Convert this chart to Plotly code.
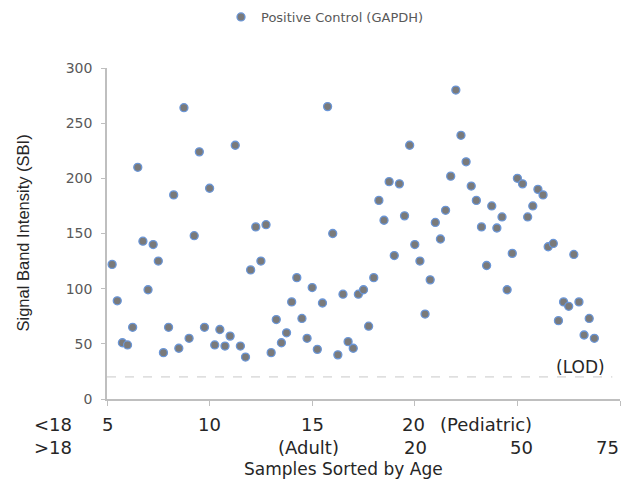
import plotly.graph_objects as go

# Data: samples sorted by age (index), signal band intensity
sbi = [122, 89, 51, 49, 65, 210, 143, 99, 140, 125,
       42, 65, 185, 46, 264, 55, 148, 224, 65, 191,
       49, 63, 48, 57, 230, 48, 38, 117, 156, 125,
       158, 42, 72, 51, 60, 88, 110, 73, 55, 101,
       45, 87, 265, 150, 40, 95, 52, 46, 95, 99,
       66, 110, 180, 162, 197, 130, 195, 166, 230, 140,
       125, 77, 108, 160, 145, 171, 202, 280, 239, 215,
       193, 180, 156, 121, 175, 155, 165, 99, 132, 200,
       195, 165, 175, 190, 185, 138, 141, 71, 88, 84,
       131, 88, 58, 73, 55]
sample_idx = list(range(1, len(sbi) + 1))

lod_value = 20
x_tick_positions = [0, 20, 40, 60, 80, 100]
row1_labels = ["5", "10", "15", "20"]
row1_pos = [0, 20, 40, 59.7]
row2_labels = ["(Adult)", "20", "50"]
row2_pos = [39.3, 60.2, 80.8]

FONT = "DejaVu Sans"
TXT = "#262626"
PW = 513.0  # plot width px


def px_to_paper(px):
    return (px - 107) / PW


fig = go.Figure()
fig.add_trace(go.Scatter(
    x=sample_idx, y=sbi, mode="markers",
    name="Positive Control (GAPDH)",
    marker=dict(size=8, color="#7a7a7a", line=dict(color="#6a96d8", width=1.3)),
))

fig.add_shape(type="line", xref="x", yref="y", x0=0, x1=98.5, y0=lod_value, y1=lod_value,
              line=dict(color="#c8c8c8", width=1, dash="dash"))

ann = []
ann.append(dict(x=92.3, y=29, xref="x", yref="y", text="(LOD)", showarrow=False,
                font=dict(family=FONT, size=17, color=TXT)))
r1y = -0.0785
r2y = -0.148
for lab, p in zip(row1_labels, row1_pos):
    ann.append(dict(x=p, y=r1y, xref="x", yref="paper", text=lab, showarrow=False,
                    yanchor="middle", font=dict(family=FONT, size=18, color=TXT)))
ann.append(dict(x=73.8, y=r1y, xref="x", yref="paper", text="(Pediatric)", showarrow=False,
                yanchor="middle", font=dict(family=FONT, size=18, color=TXT)))
for lab, p in zip(row2_labels, row2_pos):
    ann.append(dict(x=p, y=r2y, xref="x", yref="paper", text=lab, showarrow=False,
                    yanchor="middle", font=dict(family=FONT, size=18, color=TXT)))
ann.append(dict(x=px_to_paper(621), y=r2y, xref="paper", yref="paper", text="75", showarrow=False,
                xanchor="right", yanchor="middle", font=dict(family=FONT, size=18, color=TXT)))
ann.append(dict(x=px_to_paper(32), y=r1y, xref="paper", yref="paper", text="&lt;18", showarrow=False,
                yanchor="middle", font=dict(family=FONT, size=18, color=TXT)))
ann.append(dict(x=px_to_paper(32), y=r2y, xref="paper", yref="paper", text="&gt;18", showarrow=False,
                yanchor="middle", font=dict(family=FONT, size=18, color=TXT)))
ann.append(dict(x=px_to_paper(343), y=-0.2115, xref="paper", yref="paper", text="Samples Sorted by Age",
                showarrow=False, yanchor="middle", font=dict(family=FONT, size=17, color=TXT)))
ann.append(dict(x=px_to_paper(22), y=0.5, xref="paper", yref="paper", text="Signal Band Intensity (SBI)",
                showarrow=False, textangle=-90, xanchor="center", yanchor="middle",
                font=dict(family="Liberation Sans", size=16.5, color=TXT)))

fig.update_layout(
    width=624, height=483,
    margin=dict(l=107, r=4, t=68, b=84, autoexpand=False),
    paper_bgcolor="white", plot_bgcolor="white",
    showlegend=True,
    legend=dict(orientation="h", x=px_to_paper(221), y=(399 - 17) / 331.0,
                xanchor="left", yanchor="middle",
                font=dict(family=FONT, size=13, color="#595959"), itemwidth=30,
                bgcolor="rgba(0,0,0,0)"),
    annotations=ann,
    xaxis=dict(range=[0, 100], tickvals=x_tick_positions, showticklabels=False,
               showgrid=False, zeroline=False, showline=True, linecolor="#bfbfbf",
               linewidth=1.5, ticks="outside", ticklen=5, tickcolor="#bfbfbf",
               automargin=False),
    yaxis=dict(range=[0, 300], dtick=50, showgrid=False, zeroline=False, showline=True,
               linecolor="#bfbfbf", linewidth=1.5, ticks="outside", ticklen=4,
               tickcolor="#bfbfbf", automargin=False, ticklabelstandoff=6,
               tickfont=dict(family=FONT, size=14, color="#595959")),
)

fig.write_html("out.html", config={"displayModeBar": False},
               post_script="document.body.style.margin='0';document.body.style.padding='0';")
